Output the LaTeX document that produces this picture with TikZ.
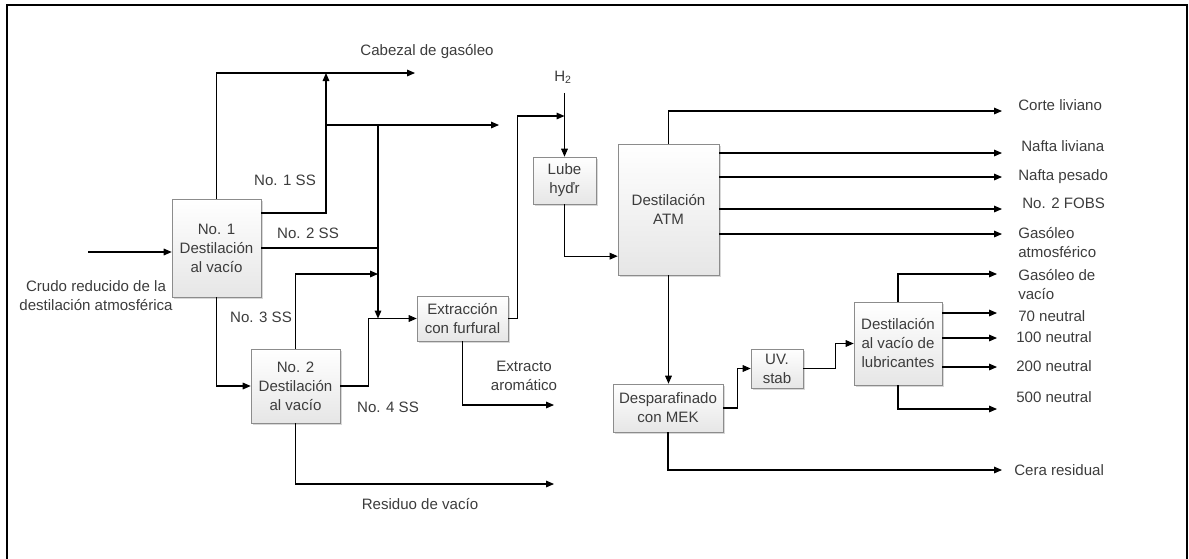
\documentclass[tikz,border=0pt]{standalone}
\usepackage{fontspec}
\setmainfont{Liberation Sans}
\usetikzlibrary{arrows.meta,shadows}
\definecolor{txt}{HTML}{3C3C3C}
\definecolor{boxline}{HTML}{8C8C8C}
\definecolor{boxfill}{HTML}{E6E6E6}

\begin{document}
\begin{tikzpicture}[x=0.75pt,y=-0.75pt,
	font=\fontsize{11.3}{14.25}\selectfont,
	box/.style={draw=boxline, top color=white, bottom color=boxfill,
		text=txt, align=center, inner sep=0pt,
		drop shadow={shadow xshift=1.2pt, shadow yshift=-1.2pt, fill=black!30}},
	box size/.style 2 args={minimum width=#1*0.75pt, minimum height=#2*0.75pt},
	arr/.style={-{Triangle[length=6pt,width=5pt]}, line width=0.8pt},
	lbl/.style={text=txt, align=center, inner sep=0pt},
	rlbl/.style={text=txt, align=left, anchor=west, inner sep=0pt}]

	% marco
	\useasboundingbox (0,0) rectangle (1189,558);
	\draw[line width=1.5pt] (7,565) -- (7,5) -- (1187,5) -- (1187,565);

	% equipos
	\node[box, box size={89}{98}]  (vd1)  at (216.5,248)   {No. 1\\Destilación\\al vacío};
	\node[box, box size={89}{74}]  (vd2)  at (295.5,386)   {No. 2\\Destilación\\al vacío};
	\node[box, box size={91}{45}]  (ext)  at (462.5,318.5) {Extracción\\con furfural};
	\node[box, box size={63}{47}]  (lube) at (564.5,180.5) {Lube\\hyďr};
	\node[box, box size={101}{131}] (atm) at (668.5,209.5) {Destilación\\ATM};
	\node[box, box size={110}{48}] (mek)  at (668,408)     {Desparafinado\\con MEK};
	\node[box, box size={52}{39}]  (uv)   at (777,368.5)   {UV.\\stab};
	\node[box, box size={88}{83}]  (lub)  at (898,343.5)   {Destilación\\al vacío de\\lubricantes};

	% etiquetas
	\node[lbl] (cab)   at (427,52)  {Cabezal de gasóleo};
	\node[lbl] (h2)    at (563,77)  {H\textsubscript{2}};
	\node[lbl] (ss1)   at (285,180) {No. 1 SS};
	\node[lbl] (ss2)   at (308,233) {No. 2 SS};
	\node[lbl] (ss3)   at (261,317) {No. 3 SS};
	\node[lbl] (ss4)   at (388,407) {No. 4 SS};
	\node[lbl] (crudo) at (96,296)  {Crudo reducido de la\\destilación atmosférica};
	\node[lbl] (earo)  at (524,376) {Extracto\\aromático};
	\node[lbl] (resv)  at (420,504) {Residuo de vacío};

	\node[rlbl] (corte) at (1018,105) {Corte liviano};
	\node[rlbl] (nl)    at (1021,146) {Nafta liviana};
	\node[rlbl] (np)    at (1018,177) {Nafta pesado};
	\node[rlbl] (fobs)  at (1022,203) {No. 2 FOBS};
	\node[rlbl] (gatm)  at (1018,243) {Gasóleo\\atmosférico};
	\node[rlbl] (gvac)  at (1018,285) {Gasóleo de\\vacío};
	\node[rlbl] (n70)   at (1018,316) {70 neutral};
	\node[rlbl] (n100)  at (1016,337) {100 neutral};
	\node[rlbl] (n200)  at (1016,366) {200 neutral};
	\node[rlbl] (n500)  at (1016,397) {500 neutral};
	\node[rlbl] (cera)  at (1014,470) {Cera residual};

	% puntos de union y salidas
	\coordinate (in)    at (88,252);
	\coordinate (oGas)  at (415,73);
	\coordinate (jSS1)  at (326,73);
	\coordinate (jTop)  at (326,125);
	\coordinate (jCol)  at (378,125);
	\coordinate (jExt)  at (378,318.5);
	\coordinate (oMid)  at (499,125);
	\coordinate (jH2)   at (564.5,116);
	\coordinate (oEA)   at (554,405);
	\coordinate (oRV)   at (554,484);
	\coordinate (oCorte) at (1002,111);
	\coordinate (oNL)   at (1002,153);
	\coordinate (oNP)   at (1002,177);
	\coordinate (oFOBS) at (1002,209);
	\coordinate (oGA)   at (1002,234);
	\coordinate (oGV)   at (997,274);
	\coordinate (o70)   at (997,313);
	\coordinate (o100)  at (997,338);
	\coordinate (o200)  at (997,367);
	\coordinate (o500)  at (997,409);
	\coordinate (oCera) at (1002,470);

	% corrientes de la zona de vacio
	\draw[arr] (in) -- (in -| vd1.west);
	\draw[arr] (vd1.north) |- (oGas);
	\draw[arr] (vd1.east |- 0,213) -| (jSS1);
	\draw[arr] (jTop) -- (oMid);
	\draw[arr] (jCol) -- (jExt);
	\draw[line width=0.8pt] (vd1.east) -- (vd1.east -| jCol);
	\draw[arr] (vd1.south) |- (vd2.west);
	\draw[arr] (vd2.north) |- (jCol |- 0,274);
	\draw[arr] (vd2.east) -- ++(28,0) |- (ext.west);
	\draw[arr] (ext.east) -- ++(9,0) |- (jH2);
	\draw[arr] (ext.south) |- (oEA);
	\draw[arr] (vd2.south) |- (oRV);

	% hidrotratamiento y destilacion ATM
	\draw[arr] ([yshift=-7pt]h2.south -| lube.north) -- (lube.north);
	\draw[arr] (lube.south) |- ([yshift=-35pt]atm.west);
	\draw[arr] (atm.north) |- (oCorte);
	\foreach \o in {oNL,oNP,oFOBS,oGA}
		\draw[arr] (\o -| atm.east) -- (\o);

	% desparafinado y lubricantes
	\draw[arr] (atm.south) -- (atm.south |- mek.north);
	\draw[arr] (mek.east) -- ++(14,0) |- (uv.west);
	\draw[arr] (uv.east) -- ++(32,0) |- (lub.west);
	\draw[arr] (lub.north) |- (oGV);
	\foreach \o in {o70,o100,o200}
		\draw[arr] (\o -| lub.east) -- (\o);
	\draw[arr] (lub.south) |- (o500);
	\draw[arr] (mek.south) |- (oCera);
\end{tikzpicture}
\end{document}
